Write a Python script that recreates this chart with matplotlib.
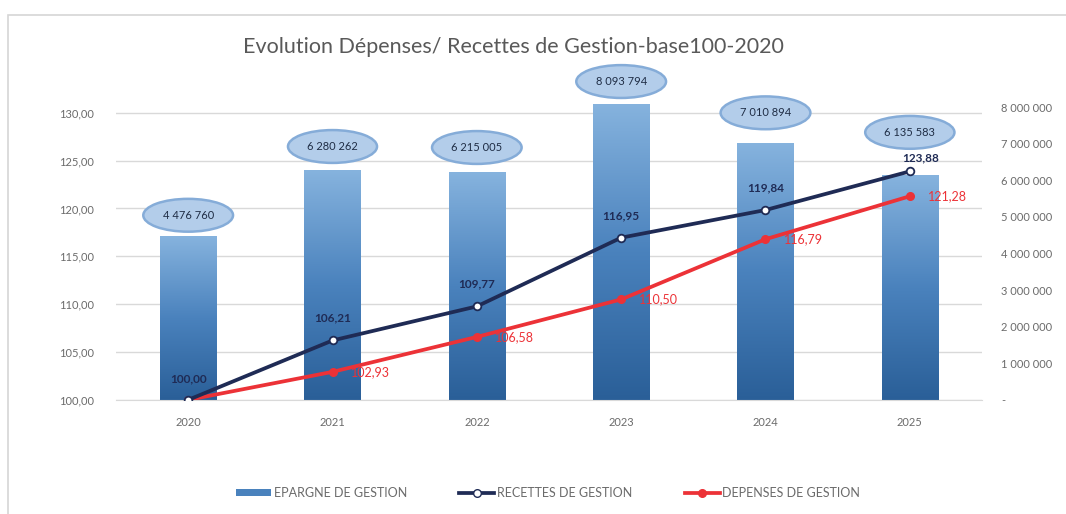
import matplotlib
matplotlib.use("Agg")
import matplotlib.pyplot as plt
import matplotlib.transforms as mtransforms
import numpy as np
from matplotlib.lines import Line2D
from matplotlib.patches import Patch, Rectangle

plt.rcParams["font.family"] = ["Lato", "DejaVu Sans"]

years = ["2020", "2021", "2022", "2023", "2024", "2025"]
epargne = [4476760, 6280262, 6215005, 8093794, 7010894, 6135583]
recettes = [100.00, 106.21, 109.77, 116.95, 119.84, 123.88]
depenses = [100.00, 102.93, 106.58, 110.50, 116.79, 121.28]

left_ticks = [100, 105, 110, 115, 120, 125, 130]
right_ticks = [0, 1000000, 2000000, 3000000, 4000000, 5000000, 6000000, 7000000, 8000000]

# label placement (offset points)
bar_label_dy = [15, 17, 18, 16, 22, 31]
rec_label_off = [(0, 15), (0, 16), (0, 16), (0, 16), (0, 16), (8, 10)]

NAVY = "#1f2b55"
RED = "#ec3237"
GRAY = "#6b6b6b"


def fr_dec(v):
    return f"{v:.2f}".replace(".", ",")


def fr_int(v):
    return f"{int(v):,}".replace(",", " ") if v else "-"


fig = plt.figure(figsize=(10.66, 5.14), dpi=100)
fig.patches.append(Rectangle((8 / 1066, -0.1), 1.2, 1.1 - 15 / 514,
                             transform=fig.transFigure, fill=False,
                             edgecolor="#d6d6d6", lw=1.2, zorder=0))

# bars live on the lower axes (scale on the right), lines on the upper one (scale on the left)
axb = fig.add_axes([116 / 1066, 0.222, (982 - 116) / 1066, 0.5837])
axl = axb.twinx()
axl.set_zorder(axb.get_zorder() + 1)
axl.patch.set_visible(False)

x = np.arange(len(years))
axl.set_ylim(100, 131.35)

# horizontal grid at the base-100 ticks, kept under the bars
grid_tf = mtransforms.blended_transform_factory(axb.transAxes, axl.transData)
for t in left_ticks:
    axb.add_line(Line2D([0, 1], [t, t], transform=grid_tf, color="#d9d9d9",
                        lw=1, zorder=0.5))

# bars with vertical gradient
bw = 0.39
grad = np.linspace(0, 1, 256).reshape(-1, 1)
cmap = matplotlib.colors.LinearSegmentedColormap.from_list(
    "bar", ["#2a5f98", "#4a82bd", "#86b3de"])
for xi, v, dy in zip(x, epargne, bar_label_dy):
    rect = Rectangle((xi - bw / 2, 0), bw, v, facecolor="none", edgecolor="none")
    axb.add_patch(rect)
    im = axb.imshow(grad, extent=(xi - bw / 2, xi + bw / 2, 0, v), origin="lower",
                    cmap=cmap, aspect="auto", zorder=2)
    im.set_clip_path(rect)
    axb.annotate(fr_int(v), (xi, v), xytext=(0, dy), textcoords="offset points",
                 ha="center", va="center", fontsize=8, color="#1f2d45",
                 bbox=dict(boxstyle="ellipse,pad=0.55", facecolor="#b3cdea",
                           edgecolor="#85acd8", lw=1.8), zorder=3)
axb.set_xlim(-0.5, len(years) - 0.5)
axb.set_ylim(0, 8.2e6)

axl.plot(x, recettes, color=NAVY, lw=2.7, marker="o", ms=5.5,
         markerfacecolor="white", markeredgecolor=NAVY, markeredgewidth=1.3, zorder=4)
axl.plot(x, depenses, color=RED, lw=2.7, marker="o", ms=5.5,
         markerfacecolor=RED, markeredgecolor=RED, zorder=3)

for xi, v, off in zip(x, recettes, rec_label_off):
    axl.annotate(fr_dec(v), (xi, v), xytext=off, textcoords="offset points",
                 ha="center", va="center", fontsize=8.5, color=NAVY, fontweight="bold")
for xi, v in zip(x, depenses):
    if xi == 0:
        continue
    axl.annotate(fr_dec(v), (xi, v), xytext=(13, 0), textcoords="offset points",
                 ha="left", va="center", fontsize=9, color=RED)

# axes cosmetics
axb.yaxis.tick_right()
axl.yaxis.tick_left()
axb.set_yticks(right_ticks)
axb.set_yticklabels([fr_int(t) for t in right_ticks])
axl.set_yticks(left_ticks)
axl.set_yticklabels([fr_dec(t) for t in left_ticks])
axb.set_xticks(x)
axb.set_xticklabels(years)
for a in (axb, axl):
    for s in a.spines.values():
        s.set_visible(False)
    a.tick_params(length=0, labelsize=8, labelcolor=GRAY)
axb.spines["bottom"].set_visible(True)
axb.spines["bottom"].set_color("#d9d9d9")
axb.tick_params(axis="x", pad=12)
axb.tick_params(axis="y", pad=14)
axl.tick_params(axis="y", pad=16)

fig.text(513 / 1066, 1 - 47 / 514, "Evolution Dépenses/ Recettes de Gestion-base100-2020",
         ha="center", va="center", fontsize=15.5, color="#595959")

handles = [
    Patch(facecolor="#4a82bd", edgecolor="none"),
    Line2D([], [], color=NAVY, lw=2.7, marker="o", ms=5.5, markerfacecolor="white",
           markeredgecolor=NAVY),
    Line2D([], [], color=RED, lw=2.7, marker="o", ms=5.5, markerfacecolor=RED),
]
fig.legend(handles, ["EPARGNE DE GESTION", "RECETTES DE GESTION", "DEPENSES DE GESTION"],
           loc="center", bbox_to_anchor=(548 / 1066, 1 - 493 / 514), ncol=3,
           frameon=False, fontsize=9, labelcolor=GRAY, handlelength=2.8,
           handleheight=0.5, columnspacing=4.2, handletextpad=0.2)

fig.savefig("out.png", dpi=100)
